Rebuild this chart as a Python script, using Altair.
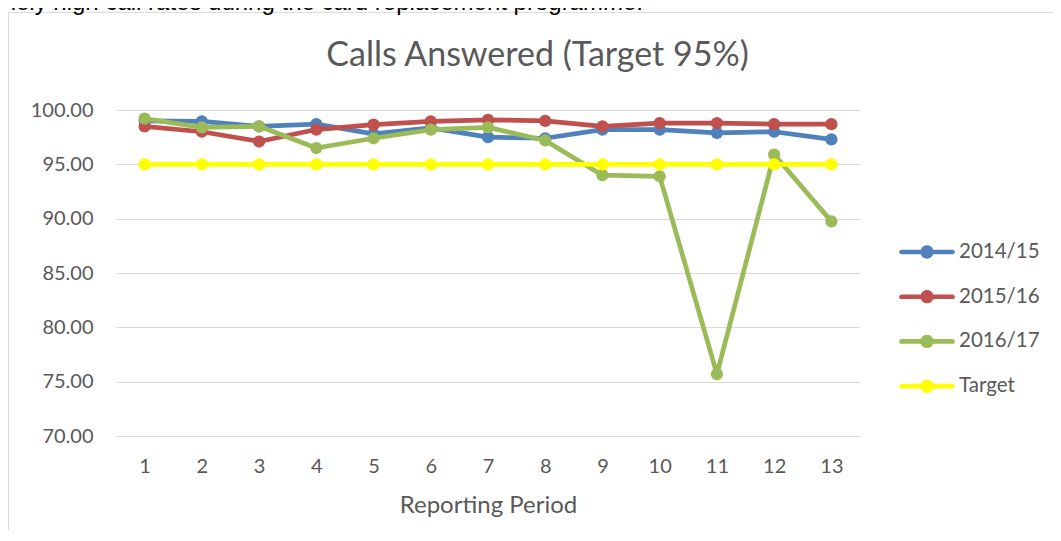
import altair as alt
import pandas as pd

periods = list(range(1, 14))
series_names = ["2014/15", "2015/16", "2016/17", "Target"]
s2014 = [99.0, 98.95, 98.5, 98.7, 97.8, 98.35, 97.5, 97.4, 98.2, 98.2, 97.9, 98.0, 97.3]
s2015 = [98.5, 98.0, 97.1, 98.2, 98.65, 98.95, 99.1, 99.0, 98.5, 98.8, 98.8, 98.7, 98.7]
s2016 = [99.2, 98.4, 98.5, 96.5, 97.4, 98.2, 98.4, 97.2, 94.0, 93.9, 75.7, 95.9, 89.75]
target = [95.0] * 13
colors = ["#4f81bd", "#c0504d", "#9bbb59", "#ffff00"]
y_ticks = [70, 75, 80, 85, 90, 95, 100]
chart_title = "Calls Answered (Target 95%)"
doc_text = "mely high call rates during the card replacement programme."

rows = []
for name, vals in zip(series_names, [s2014, s2015, s2016, target]):
    for p, v in zip(periods, vals):
        rows.append({"period": p, "value": v, "series": name})
df = pd.DataFrame(rows)
one = pd.DataFrame({"k": [0]})

FONT = "Lato"
TXT = "#595959"

# legend symbol: thick line with a dot in the middle
t, r, c = 0.083, 0.24, 0.225
e = 1 - t
sym = (f"M{-e},{-t} L{-c},{-t} A{r},{r} 0 0 1 {c},{-t} L{e},{-t} "
       f"A{t},{t} 0 0 1 {e},{t} L{c},{t} A{r},{r} 0 0 1 {-c},{t} "
       f"L{-e},{t} A{t},{t} 0 0 1 {-e},{-t} Z")

color_scale = alt.Scale(domain=series_names, range=colors)
legend = alt.Legend(title=None, orient="none", legendX=783, legendY=114,
                    symbolType=sym, symbolSize=3100, symbolStrokeWidth=0,
                    symbolOpacity=1, labelFont=FONT, labelFontSize=20.5,
                    labelColor=TXT, labelOffset=4, rowPadding=5.7)
x_enc = alt.X("period:Q", scale=alt.Scale(domain=[0.5, 13.5], nice=False, zero=False),
              axis=alt.Axis(values=periods, title="Reporting Period", grid=False,
                            domain=False, ticks=False, labelFont=FONT, labelFontSize=20,
                            labelColor=TXT, labelPadding=20, titleFont=FONT,
                            titleFontSize=24, titleColor=TXT, titleFontWeight="normal",
                            titlePadding=17, labelFlush=False))
y_enc = alt.Y("value:Q", scale=alt.Scale(domain=[70, 100], nice=False, zero=False),
              axis=alt.Axis(values=y_ticks, format=".2f", title=None, domain=False,
                            ticks=False, gridColor="#d9d9d9", gridWidth=1,
                            labelFont=FONT, labelFontSize=20, labelColor=TXT,
                            labelPadding=23))

frame = alt.Chart(one).mark_rect(filled=False, stroke="#d9d9d9", strokeWidth=1).encode(
    x=alt.value(-107.5), y=alt.value(-97.6), x2=alt.value(3000), y2=alt.value(3000)
)

cut_text = alt.Chart(one).mark_text(
    text=doc_text, align="left", baseline="alphabetic", font="Arial",
    fontSize=24, color="#000000"
).encode(x=alt.value(-120), y=alt.value(-100))

title = alt.Chart(one).mark_text(
    text=chart_title, align="center", baseline="alphabetic", font=FONT,
    fontSize=34, color=TXT
).encode(x=alt.value(421.5), y=alt.value(-44))

layers = [frame, cut_text, title]
for name in series_names:
    base = alt.Chart(df).transform_filter(alt.datum.series == name)
    color = alt.Color("series:N", scale=color_scale, legend=legend)
    line = base.mark_line(strokeWidth=4.7, strokeCap="round", strokeJoin="round").encode(
        x=x_enc, y=y_enc, color=color)
    pts = base.mark_point(filled=True, size=150, opacity=1, strokeWidth=0).encode(
        x=x_enc, y=y_enc, color=color)
    layers += [line, pts]

chart = alt.layer(*layers).properties(
    width=744, height=326,
    autosize=alt.AutoSizeParams(type="none"),
    padding={"left": 108, "top": 102, "right": 193, "bottom": 94},
).configure_view(stroke=None)

chart.save("out.html", embed_options={"renderer": "svg", "actions": False})
